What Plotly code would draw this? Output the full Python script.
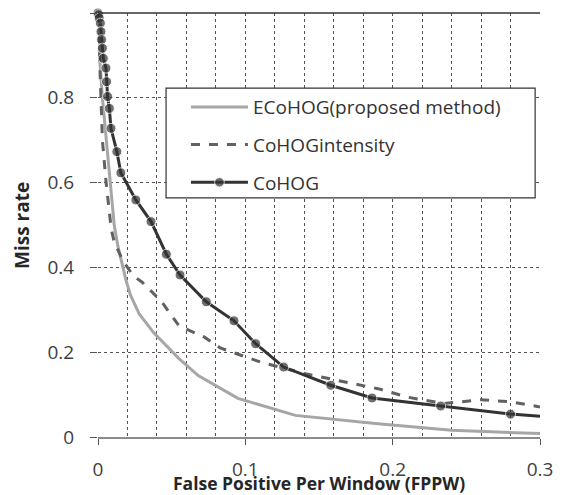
import plotly.graph_objects as go

# ---------------- data ----------------
ecohog_x = [0.0, 0.001, 0.003, 0.005, 0.008, 0.011, 0.0135, 0.016, 0.019, 0.022, 0.028,
            0.038, 0.055, 0.068, 0.095, 0.134, 0.19, 0.24, 0.30]
ecohog_y = [1.0, 0.90, 0.80, 0.72, 0.61, 0.50, 0.45, 0.41, 0.37, 0.335, 0.29,
            0.245, 0.185, 0.145, 0.091, 0.051, 0.031, 0.016, 0.008]

intensity_x = [0.0005, 0.001, 0.0023, 0.003, 0.0055, 0.009, 0.011, 0.017, 0.024, 0.03, 0.043,
               0.055, 0.072, 0.083, 0.11, 0.14, 0.17, 0.19, 0.21, 0.235, 0.26, 0.28, 0.30]
intensity_y = [0.95, 0.90, 0.79, 0.70, 0.60, 0.49, 0.46, 0.415, 0.38, 0.365, 0.32,
               0.262, 0.236, 0.21, 0.177, 0.15, 0.128, 0.114, 0.094, 0.079, 0.088, 0.083, 0.071]

cohog_x = [0.0, 0.0004, 0.0008, 0.0016, 0.002, 0.0024, 0.003, 0.0036, 0.0054, 0.0058, 0.0065,
           0.0077, 0.0088, 0.0128, 0.0155, 0.0257, 0.036, 0.0464, 0.0557, 0.0735, 0.0923,
           0.107, 0.126, 0.158, 0.186, 0.2326, 0.280, 0.300]
cohog_y = [1.0, 0.996, 0.988, 0.976, 0.956, 0.937, 0.917, 0.893, 0.870, 0.838, 0.803,
           0.775, 0.728, 0.673, 0.623, 0.559, 0.508, 0.431, 0.382, 0.319, 0.274,
           0.220, 0.165, 0.122, 0.092, 0.073, 0.054, 0.049]
cohog_marker = [True] * (len(cohog_x) - 1) + [False]

names = ["ECoHOG(proposed method)", "CoHOGintensity", "CoHOG"]
x_ticks = [0, 0.1, 0.2, 0.3]
x_tick_labels = ["0", "0.1", "0.2", "0.3"]
y_ticks = [0, 0.2, 0.4, 0.6, 0.8, 1]
y_tick_labels = ["0", "0.2", "0.4", "0.6", "0.8", "1"]

FONT = "Open Sans"

fig = go.Figure()
fig.add_trace(go.Scatter(x=ecohog_x, y=ecohog_y, mode="lines", name=names[0],
                         line=dict(color="#a6a6a6", width=3), legendgroup="a", cliponaxis=False))
fig.add_trace(go.Scatter(x=intensity_x, y=intensity_y, mode="lines", name=names[1],
                         line=dict(color="#616161", width=3, dash="dash"), legendgroup="b", cliponaxis=False))
fig.add_trace(go.Scatter(x=cohog_x, y=cohog_y, mode="lines+markers", name=names[2],
                         line=dict(color="#333333", width=3),
                         marker=dict(size=[10 if m else 0 for m in cohog_marker], color="#333333"),
                         legendgroup="c", cliponaxis=False))

grid_col = "#5a5050"
fig.update_xaxes(range=[0, 0.3], tickvals=x_ticks, ticktext=x_tick_labels,
                 showgrid=True, gridcolor=grid_col, griddash="dot", gridwidth=1,
                 minor=dict(dtick=0.02, tick0=0, showgrid=True, gridcolor=grid_col, griddash="dot", gridwidth=1),
                 ticks="outside", ticklen=6, tickcolor=grid_col,
                 showline=True, linecolor="#8c8c8c", linewidth=2,
                 zeroline=False, ticklabelstandoff=8, automargin=False,
                 tickfont=dict(family=FONT, size=19, color="#404040"))
fig.update_yaxes(range=[0, 1], tickvals=y_ticks, ticktext=y_tick_labels,
                 showgrid=True, gridcolor=grid_col, griddash="dot", gridwidth=1,
                 ticks="outside", ticklen=7, tickcolor=grid_col,
                 showline=False, zeroline=False, ticklabelstandoff=12, automargin=False,
                 tickfont=dict(family=FONT, size=19, color="#404040"))

fig.add_shape(type="line", xref="paper", yref="paper", x0=0, x1=1, y0=1, y1=1,
              line=dict(color="#333333", width=1.5))
# legend box
fig.add_shape(type="rect", xref="paper", yref="paper", x0=0.154, x1=0.989, y0=0.564, y1=0.823,
              line=dict(color="#333333", width=1.2), fillcolor="white", layer="above")

fig.add_annotation(text="<b>False Positive Per Window (FPPW)</b>", xref="paper", yref="paper",
                   x=0.5, y=-0.108, yanchor="middle", showarrow=False,
                   font=dict(family=FONT, size=17.5, color="#262626"))
fig.add_annotation(text="<b>Miss rate</b>", xref="paper", yref="paper", textangle=-90,
                   x=-0.172, y=0.5, xanchor="center", showarrow=False,
                   font=dict(family=FONT, size=19, color="#262626"))

fig.update_layout(
    width=563, height=495,
    margin=dict(l=90, r=31, t=5, b=66, autoexpand=False),
    paper_bgcolor="white", plot_bgcolor="white",
    showlegend=True,
    legend=dict(x=0.199, y=0.823, xanchor="left", yanchor="top",
                bgcolor="rgba(0,0,0,0)", borderwidth=0,
                font=dict(family=FONT, size=19, color="#333333"),
                tracegroupgap=10, itemwidth=57),
)

fig.write_html("out.html")
